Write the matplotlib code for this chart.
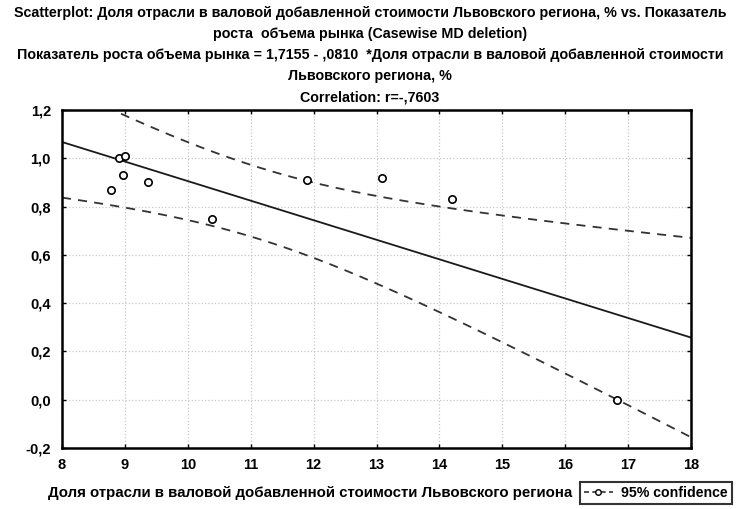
import numpy as np
import matplotlib
matplotlib.use('Agg')
import matplotlib.pyplot as plt
from matplotlib.lines import Line2D

# share of industry in gross value added (%), market growth index
share = [8.90, 9.00, 8.97, 8.78, 9.37, 10.38, 11.89, 13.08, 14.20, 16.82]
growth = [1.00, 1.01, 0.93, 0.87, 0.90, 0.75, 0.91, 0.92, 0.83, 0.00]

intercept = 1.7155
slope = -0.0810
t_crit = 2.306  # t(0.975, n-2) for n = 10

xticks = list(range(8, 19))
yticks = [-0.2, 0.0, 0.2, 0.4, 0.6, 0.8, 1.0, 1.2]
ytick_labels = ['-0,2', '0,0', '0,2', '0,4', '0,6', '0,8', '1,0', '1,2']

title_lines = [
    'Scatterplot: Доля отрасли в валовой добавленной стоимости Львовского региона, % vs. Показатель',
    'роста  объема рынка (Casewise MD deletion)',
    'Показатель роста объема рынка = 1,7155 - ,0810  *Доля отрасли в валовой добавленной стоимости',
    'Львовского региона, %',
    'Correlation: r=-,7603',
]
xlabel = 'Доля отрасли в валовой добавленной стоимости Львовского региона'

plt.rcParams['font.family'] = ['Liberation Sans', 'DejaVu Sans']

fig = plt.figure(figsize=(7.4, 5.09), dpi=100)
ax = fig.add_axes([62 / 740, 1 - 448 / 509, (691 - 62) / 740, (448 - 110) / 509])

x = np.array(share)
y = np.array(growth)
n = len(x)

# fitted line and 95% confidence band for the mean
xs = np.linspace(8, 18, 200)
fit = intercept + slope * xs
resid = y - (intercept + slope * x)
s = np.sqrt(np.sum(resid ** 2) / (n - 2))
sxx = np.sum((x - x.mean()) ** 2)
half = t_crit * s * np.sqrt(1 / n + (xs - x.mean()) ** 2 / sxx)

ax.plot(xs, fit, color='#1a1a1a', lw=1.3)
ax.plot(xs, fit + half, color='#333333', lw=1.3, ls=(0, (5, 4)))
ax.plot(xs, fit - half, color='#333333', lw=1.3, ls=(0, (5, 4)))
ax.scatter(x, y, s=28, facecolors='white', edgecolors='black', linewidths=1.2, zorder=3)

ax.set_xlim(8, 18)
ax.set_ylim(-0.2, 1.2)
ax.set_xticks(xticks)
ax.set_yticks(yticks)
ax.set_yticklabels(ytick_labels)
ax.grid(True, color='#c8c8c8', ls=':', lw=0.9)
ax.tick_params(direction='in', length=3, width=1, top=True, right=True,
               labelsize=10.5)
ax.tick_params(axis='y', pad=8)
ax.tick_params(axis='x', pad=7)
for lab in ax.get_xticklabels() + ax.get_yticklabels():
    lab.set_fontweight('bold')
for sp in ax.spines.values():
    sp.set_linewidth(1.8)

title_y = [13, 34, 55, 76, 97]
for line, ypx in zip(title_lines, title_y):
    fig.text(0.5, 1 - ypx / 509, line, ha='center', va='center',
             fontsize=10.3, fontweight='bold')

fig.text(310 / 740, 1 - 493 / 509, xlabel, ha='center', va='center',
         fontsize=10.8, fontweight='bold')

handle = Line2D([], [], color='#333333', ls=(0, (3, 2)), lw=1.2,
                marker='o', markevery=[1], markersize=4,
                markerfacecolor='white', markeredgecolor='black')
leg = fig.legend([handle], ['95% confidence'], loc='center',
                 bbox_to_anchor=(656 / 740, 1 - 493 / 509),
                 frameon=True, fancybox=False, edgecolor='black',
                 handlelength=2.0, borderpad=0.3, handletextpad=0.6,
                 prop={'size': 10.2, 'weight': 'bold'})
leg.get_frame().set_linewidth(1.5)

fig.savefig('out.png', dpi=100)
